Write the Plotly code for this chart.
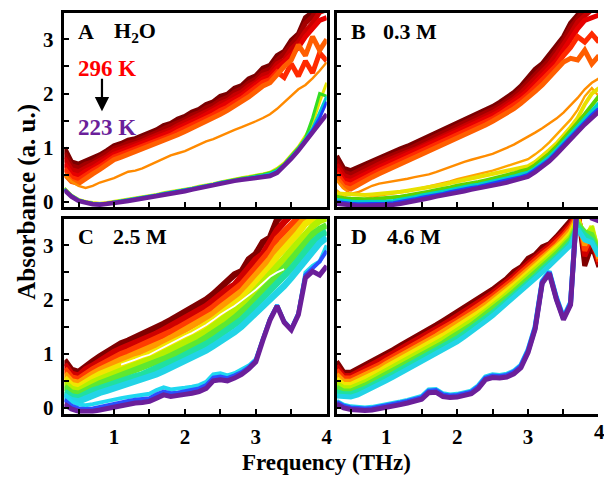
import plotly.graph_objects as go

# Frequency grid (THz) shared by every spectrum
freq_thz = [0.3, 0.4, 0.5, 0.6, 0.7, 0.8, 0.9, 1.0, 1.1, 1.2, 1.3, 1.4, 1.5,
            1.6, 1.7, 1.8, 1.9, 2.0, 2.1, 2.2, 2.3, 2.4, 2.5, 2.6, 2.7, 2.8,
            2.9, 3.0, 3.1, 3.2, 3.3, 3.4, 3.5, 3.6, 3.7, 3.8, 3.9, 4.0]

# Panel A (H2O): one row per frequency, columns run from 296 K down to 223 K
h2o_rows = [
    [1.00, 0.90, 0.81, 0.71, 0.62, 0.52, 0.50, 0.26, 0.25, 0.24, 0.23, 0.22],
    [0.74, 0.67, 0.60, 0.52, 0.45, 0.38, 0.38, 0.13, 0.12, 0.12, 0.11, 0.10],
    [0.70, 0.63, 0.56, 0.48, 0.41, 0.34, 0.30, 0.05, 0.04, 0.04, 0.03, 0.02],
    [0.76, 0.70, 0.63, 0.57, 0.50, 0.44, 0.26, 0.01, 0.00, 0.00, -0.01, -0.02],
    [0.80, 0.74, 0.69, 0.63, 0.58, 0.52, 0.30, -0.01, -0.02, -0.02, -0.03, -0.04],
    [0.87, 0.82, 0.76, 0.71, 0.65, 0.60, 0.36, -0.02, -0.03, -0.03, -0.04, -0.05],
    [0.95, 0.90, 0.84, 0.79, 0.73, 0.68, 0.40, -0.01, -0.02, -0.02, -0.03, -0.04],
    [1.04, 0.99, 0.94, 0.88, 0.83, 0.78, 0.44, 0.01, 0.00, 0.00, -0.02, -0.03],
    [1.08, 1.03, 0.98, 0.93, 0.88, 0.83, 0.50, 0.03, 0.02, 0.02, 0.01, 0.00],
    [1.14, 1.09, 1.04, 0.98, 0.93, 0.88, 0.56, 0.05, 0.04, 0.04, 0.03, 0.02],
    [1.17, 1.12, 1.07, 1.02, 0.97, 0.92, 0.58, 0.07, 0.06, 0.06, 0.05, 0.04],
    [1.22, 1.17, 1.12, 1.07, 1.02, 0.97, 0.62, 0.10, 0.09, 0.09, 0.08, 0.07],
    [1.29, 1.24, 1.18, 1.13, 1.07, 1.02, 0.68, 0.12, 0.11, 0.11, 0.10, 0.09],
    [1.33, 1.28, 1.23, 1.17, 1.12, 1.07, 0.74, 0.14, 0.13, 0.13, 0.12, 0.11],
    [1.41, 1.35, 1.30, 1.24, 1.19, 1.13, 0.80, 0.17, 0.16, 0.16, 0.15, 0.14],
    [1.45, 1.40, 1.34, 1.29, 1.23, 1.18, 0.86, 0.19, 0.18, 0.18, 0.17, 0.16],
    [1.53, 1.47, 1.41, 1.36, 1.30, 1.24, 0.90, 0.21, 0.20, 0.20, 0.19, 0.18],
    [1.58, 1.52, 1.47, 1.41, 1.36, 1.30, 0.94, 0.23, 0.22, 0.22, 0.21, 0.20],
    [1.66, 1.60, 1.54, 1.48, 1.42, 1.36, 1.00, 0.26, 0.25, 0.25, 0.24, 0.23],
    [1.71, 1.65, 1.59, 1.54, 1.48, 1.42, 1.06, 0.29, 0.28, 0.28, 0.27, 0.26],
    [1.80, 1.74, 1.67, 1.61, 1.54, 1.48, 1.12, 0.31, 0.30, 0.30, 0.29, 0.28],
    [1.85, 1.79, 1.73, 1.67, 1.61, 1.55, 1.16, 0.34, 0.33, 0.33, 0.32, 0.31],
    [1.95, 1.88, 1.82, 1.75, 1.69, 1.62, 1.22, 0.37, 0.36, 0.36, 0.35, 0.34],
    [1.99, 1.93, 1.87, 1.81, 1.75, 1.69, 1.28, 0.40, 0.39, 0.38, 0.37, 0.36],
    [2.10, 2.03, 1.97, 1.90, 1.84, 1.77, 1.33, 0.43, 0.42, 0.41, 0.40, 0.39],
    [2.15, 2.09, 2.03, 1.97, 1.91, 1.85, 1.38, 0.45, 0.44, 0.43, 0.42, 0.41],
    [2.27, 2.20, 2.14, 2.07, 2.01, 1.94, 1.43, 0.47, 0.46, 0.45, 0.44, 0.43],
    [2.33, 2.27, 2.21, 2.16, 2.10, 2.04, 1.49, 0.49, 0.48, 0.47, 0.45, 0.44],
    [2.47, 2.40, 2.34, 2.27, 2.21, 2.14, 1.55, 0.52, 0.51, 0.49, 0.47, 0.46],
    [2.52, 2.45, 2.38, 2.32, 2.26, 2.20, 1.62, 0.55, 0.54, 0.52, 0.50, 0.48],
    [2.70, 2.62, 2.55, 2.47, 2.40, 2.36, 1.72, 0.62, 0.60, 0.58, 0.56, 0.54],
    [2.78, 2.74, 2.62, 2.58, 2.30, 2.50, 1.84, 0.72, 0.70, 0.69, 0.67, 0.66],
    [2.98, 2.90, 2.82, 2.70, 2.55, 2.62, 1.96, 0.86, 0.84, 0.83, 0.81, 0.80],
    [3.10, 3.05, 2.95, 2.85, 2.32, 2.90, 2.08, 1.02, 1.00, 0.98, 0.96, 0.95],
    [3.40, 3.30, 3.15, 3.05, 2.60, 2.70, 2.16, 1.22, 1.18, 1.16, 1.14, 1.12],
    [3.50, 3.42, 3.30, 3.20, 2.38, 3.05, 2.28, 1.45, 1.55, 1.36, 1.32, 1.28],
    [3.75, 3.65, 3.50, 3.35, 2.75, 2.80, 2.42, 1.85, 2.00, 1.65, 1.55, 1.45],
    [3.80, 3.70, 3.55, 3.40, 2.60, 3.00, 2.58, 2.20, 1.95, 1.95, 1.85, 1.62],
]

# Panel B (0.3 M)
m03_rows = [
    [0.85, 0.77, 0.69, 0.61, 0.53, 0.45, 0.40, 0.22, 0.16, 0.10, 0.04, 0.00, -0.03],
    [0.62, 0.55, 0.49, 0.41, 0.35, 0.28, 0.25, 0.10, 0.15, 0.07, 0.02, -0.02, -0.05],
    [0.58, 0.51, 0.44, 0.38, 0.31, 0.24, 0.15, 0.05, 0.14, 0.06, 0.01, -0.03, -0.06],
    [0.64, 0.58, 0.51, 0.45, 0.38, 0.32, 0.18, 0.03, 0.13, 0.05, 0.00, -0.04, -0.07],
    [0.70, 0.64, 0.58, 0.52, 0.46, 0.40, 0.24, 0.06, 0.13, 0.05, 0.00, -0.04, -0.07],
    [0.76, 0.70, 0.64, 0.58, 0.52, 0.46, 0.30, 0.10, 0.14, 0.05, 0.00, -0.04, -0.07],
    [0.82, 0.76, 0.70, 0.64, 0.58, 0.52, 0.34, 0.12, 0.15, 0.06, 0.01, -0.03, -0.06],
    [0.88, 0.82, 0.76, 0.70, 0.64, 0.58, 0.36, 0.14, 0.16, 0.07, 0.01, -0.03, -0.06],
    [0.94, 0.88, 0.82, 0.76, 0.70, 0.64, 0.38, 0.15, 0.17, 0.08, 0.02, -0.02, -0.05],
    [0.98, 0.92, 0.86, 0.81, 0.75, 0.69, 0.40, 0.18, 0.19, 0.10, 0.04, 0.00, -0.03],
    [1.03, 0.97, 0.92, 0.86, 0.81, 0.75, 0.43, 0.20, 0.21, 0.12, 0.06, 0.02, -0.01],
    [1.09, 1.03, 0.97, 0.92, 0.86, 0.80, 0.46, 0.23, 0.23, 0.14, 0.09, 0.05, 0.02],
    [1.14, 1.09, 1.03, 0.98, 0.92, 0.87, 0.48, 0.26, 0.25, 0.17, 0.12, 0.08, 0.05],
    [1.20, 1.15, 1.09, 1.04, 0.98, 0.93, 0.51, 0.28, 0.27, 0.19, 0.14, 0.10, 0.07],
    [1.26, 1.21, 1.15, 1.10, 1.04, 0.99, 0.55, 0.31, 0.30, 0.22, 0.17, 0.13, 0.10],
    [1.32, 1.27, 1.21, 1.16, 1.10, 1.05, 0.60, 0.35, 0.32, 0.24, 0.19, 0.15, 0.12],
    [1.40, 1.34, 1.28, 1.23, 1.17, 1.11, 0.65, 0.38, 0.35, 0.27, 0.22, 0.18, 0.15],
    [1.46, 1.40, 1.34, 1.29, 1.23, 1.17, 0.70, 0.42, 0.38, 0.30, 0.25, 0.21, 0.18],
    [1.51, 1.45, 1.40, 1.34, 1.29, 1.23, 0.74, 0.45, 0.40, 0.32, 0.27, 0.23, 0.20],
    [1.56, 1.51, 1.45, 1.40, 1.34, 1.29, 0.78, 0.48, 0.43, 0.35, 0.30, 0.26, 0.23],
    [1.62, 1.57, 1.51, 1.46, 1.40, 1.35, 0.81, 0.52, 0.46, 0.37, 0.32, 0.28, 0.25],
    [1.68, 1.63, 1.57, 1.52, 1.47, 1.42, 0.85, 0.55, 0.49, 0.40, 0.35, 0.31, 0.28],
    [1.76, 1.71, 1.65, 1.60, 1.54, 1.49, 0.89, 0.58, 0.52, 0.43, 0.37, 0.33, 0.30],
    [1.84, 1.78, 1.73, 1.67, 1.62, 1.56, 0.94, 0.62, 0.55, 0.46, 0.40, 0.36, 0.33],
    [1.93, 1.87, 1.81, 1.76, 1.70, 1.64, 1.00, 0.66, 0.58, 0.49, 0.43, 0.39, 0.36],
    [2.02, 1.96, 1.90, 1.84, 1.78, 1.72, 1.06, 0.70, 0.61, 0.53, 0.47, 0.42, 0.39],
    [2.14, 2.08, 2.01, 1.95, 1.88, 1.82, 1.13, 0.74, 0.64, 0.57, 0.51, 0.46, 0.43],
    [2.28, 2.21, 2.14, 2.06, 1.99, 1.92, 1.20, 0.79, 0.66, 0.60, 0.54, 0.50, 0.47],
    [2.45, 2.37, 2.29, 2.20, 2.12, 2.04, 1.28, 0.88, 0.74, 0.68, 0.62, 0.58, 0.55],
    [2.55, 2.47, 2.39, 2.32, 2.24, 2.16, 1.36, 0.98, 0.84, 0.78, 0.72, 0.68, 0.65],
    [2.70, 2.62, 2.54, 2.46, 2.38, 2.30, 1.45, 1.10, 0.96, 0.89, 0.83, 0.78, 0.75],
    [2.88, 2.80, 2.72, 2.60, 2.52, 2.44, 1.54, 1.24, 1.08, 1.02, 0.96, 0.92, 0.88],
    [3.05, 2.98, 2.90, 2.80, 2.70, 2.58, 1.65, 1.38, 1.22, 1.16, 1.10, 1.06, 1.02],
    [3.30, 3.22, 3.10, 3.00, 2.85, 2.65, 1.78, 1.52, 1.38, 1.31, 1.24, 1.20, 1.16],
    [3.45, 3.40, 3.32, 3.20, 3.05, 2.62, 1.92, 1.70, 1.55, 1.46, 1.39, 1.34, 1.30],
    [3.60, 3.55, 3.45, 3.35, 2.95, 2.80, 2.08, 1.95, 1.80, 1.62, 1.52, 1.47, 1.43],
    [3.70, 3.65, 3.55, 3.40, 3.10, 2.55, 2.20, 2.10, 2.00, 1.80, 1.68, 1.60, 1.55],
    [3.75, 3.70, 3.60, 3.45, 2.95, 2.70, 2.28, 1.95, 2.10, 1.95, 1.82, 1.72, 1.67],
]

# Panel C (2.5 M): liquid band, a pale trace, then frozen spectra
m25_rows = [
    [0.88, 0.80, 0.72, 0.63, 0.55, 0.47, 0.39, 0.30, 0.22, None, 0.25, 0.15, 0.07],
    [0.70, 0.63, 0.56, 0.49, 0.42, 0.35, 0.28, 0.21, 0.14, None, 0.12, 0.04, -0.02],
    [0.66, 0.59, 0.53, 0.46, 0.39, 0.32, 0.26, 0.19, 0.12, None, 0.06, -0.01, -0.06],
    [0.78, 0.71, 0.63, 0.56, 0.48, 0.41, 0.33, 0.26, 0.18, None, 0.05, -0.02, -0.07],
    [0.86, 0.78, 0.71, 0.63, 0.55, 0.47, 0.40, 0.32, 0.24, None, 0.07, -0.01, -0.06],
    [0.95, 0.87, 0.78, 0.70, 0.62, 0.53, 0.45, 0.36, 0.28, None, 0.10, 0.02, -0.04],
    [1.04, 0.95, 0.86, 0.77, 0.68, 0.59, 0.50, 0.41, 0.32, None, 0.13, 0.05, -0.01],
    [1.12, 1.03, 0.93, 0.84, 0.74, 0.65, 0.55, 0.46, 0.36, None, 0.15, 0.08, 0.02],
    [1.19, 1.09, 0.99, 0.89, 0.80, 0.70, 0.60, 0.50, 0.40, 0.80, 0.18, 0.11, 0.05],
    [1.24, 1.14, 1.04, 0.94, 0.84, 0.74, 0.64, 0.54, 0.44, 0.84, 0.20, 0.13, 0.07],
    [1.30, 1.20, 1.10, 0.99, 0.89, 0.79, 0.69, 0.58, 0.48, 0.89, 0.22, 0.15, 0.09],
    [1.35, 1.25, 1.14, 1.04, 0.93, 0.83, 0.73, 0.62, 0.52, 0.94, 0.24, 0.16, 0.10],
    [1.40, 1.30, 1.19, 1.09, 0.98, 0.88, 0.77, 0.67, 0.56, 0.98, 0.26, 0.18, 0.12],
    [1.48, 1.37, 1.27, 1.16, 1.05, 0.94, 0.84, 0.73, 0.62, 1.05, 0.33, 0.25, 0.18],
    [1.55, 1.44, 1.33, 1.22, 1.12, 1.01, 0.90, 0.79, 0.68, 1.12, 0.38, 0.30, 0.24],
    [1.62, 1.51, 1.40, 1.29, 1.18, 1.07, 0.96, 0.85, 0.74, 1.18, 0.34, 0.27, 0.21],
    [1.69, 1.58, 1.47, 1.36, 1.25, 1.13, 1.02, 0.91, 0.80, 1.25, 0.35, 0.28, 0.22],
    [1.77, 1.66, 1.54, 1.43, 1.32, 1.20, 1.09, 0.97, 0.86, 1.32, 0.37, 0.31, 0.25],
    [1.84, 1.73, 1.61, 1.50, 1.38, 1.27, 1.15, 1.04, 0.92, 1.38, 0.39, 0.33, 0.27],
    [1.92, 1.80, 1.69, 1.57, 1.46, 1.34, 1.22, 1.11, 0.99, 1.45, 0.42, 0.36, 0.30],
    [2.00, 1.88, 1.77, 1.65, 1.53, 1.41, 1.30, 1.18, 1.06, 1.53, 0.48, 0.42, 0.36],
    [2.10, 1.98, 1.86, 1.74, 1.62, 1.50, 1.38, 1.26, 1.14, 1.62, 0.62, 0.56, 0.50],
    [2.22, 2.10, 1.97, 1.85, 1.72, 1.60, 1.47, 1.35, 1.22, 1.72, 0.64, 0.58, 0.52],
    [2.30, 2.19, 2.07, 1.94, 1.82, 1.69, 1.56, 1.44, 1.31, 1.80, 0.60, 0.55, 0.50],
    [2.46, 2.27, 2.17, 2.04, 1.91, 1.78, 1.66, 1.53, 1.40, 1.88, 0.64, 0.60, 0.55],
    [2.52, 2.43, 2.28, 2.15, 2.02, 1.89, 1.76, 1.63, 1.50, 1.98, 0.70, 0.66, 0.62],
    [2.74, 2.55, 2.43, 2.30, 2.16, 2.03, 1.89, 1.76, 1.62, 2.08, 0.78, 0.75, 0.72],
    [2.84, 2.74, 2.58, 2.44, 2.31, 2.17, 2.03, 1.89, 1.75, 2.18, 0.90, 0.88, 0.85],
    [3.06, 2.84, 2.72, 2.58, 2.44, 2.30, 2.16, 2.02, 1.87, 2.30, 1.28, 1.27, 1.25],
    [3.14, 3.08, 2.90, 2.75, 2.60, 2.45, 2.30, 2.15, 2.00, 2.42, 1.65, 1.64, 1.62],
    [3.47, 3.28, 3.12, 2.95, 2.79, 2.62, 2.45, 2.29, 2.12, 2.50, 1.90, 1.89, 1.88],
    [3.60, 3.43, 3.26, 3.09, 2.93, 2.76, 2.59, 2.42, 2.25, 2.56, 1.60, 1.59, 1.58],
    [3.75, 3.58, 3.41, 3.24, 3.08, 2.91, 2.74, 2.57, 2.40, None, 1.46, 1.45, 1.44],
    [3.90, 3.73, 3.57, 3.40, 3.23, 3.06, 2.90, 2.73, 2.56, None, 1.75, 1.74, 1.72],
    [4.00, 3.85, 3.70, 3.55, 3.40, 3.24, 3.07, 2.90, 2.74, None, 2.50, 2.45, 2.40],
    [4.10, 3.95, 3.80, 3.65, 3.50, 3.35, 3.20, 3.05, 2.90, None, 2.62, 2.58, 2.52],
    [4.20, 4.05, 3.90, 3.75, 3.60, 3.45, 3.30, 3.17, 3.04, None, 2.70, 2.70, 2.45],
    [4.30, 4.10, 3.95, 3.80, 3.65, 3.50, 3.37, 3.25, 3.14, None, 3.00, 2.90, 2.62],
]

# Panel D (4.6 M): liquid band, then frozen spectra
m46_rows = [
    [0.86, 0.78, 0.70, 0.62, 0.54, 0.46, 0.38, 0.30, 0.22, 0.12, 0.10, 0.07],
    [0.66, 0.60, 0.55, 0.49, 0.43, 0.37, 0.31, 0.26, 0.20, 0.05, 0.03, 0.00],
    [0.66, 0.60, 0.55, 0.49, 0.43, 0.37, 0.31, 0.26, 0.20, 0.02, 0.00, -0.03],
    [0.73, 0.67, 0.61, 0.55, 0.49, 0.42, 0.36, 0.30, 0.24, 0.00, -0.02, -0.05],
    [0.78, 0.72, 0.66, 0.60, 0.54, 0.48, 0.42, 0.36, 0.30, 0.00, -0.02, -0.05],
    [0.85, 0.79, 0.73, 0.67, 0.61, 0.55, 0.49, 0.43, 0.37, 0.01, -0.01, -0.04],
    [0.93, 0.87, 0.80, 0.74, 0.68, 0.62, 0.55, 0.49, 0.43, 0.03, 0.01, -0.02],
    [1.01, 0.95, 0.88, 0.82, 0.76, 0.69, 0.63, 0.56, 0.50, 0.05, 0.03, 0.00],
    [1.08, 1.02, 0.95, 0.89, 0.83, 0.76, 0.70, 0.63, 0.57, 0.08, 0.06, 0.03],
    [1.16, 1.10, 1.03, 0.97, 0.90, 0.84, 0.77, 0.71, 0.64, 0.11, 0.09, 0.06],
    [1.23, 1.17, 1.10, 1.04, 0.97, 0.91, 0.84, 0.78, 0.71, 0.14, 0.12, 0.09],
    [1.30, 1.24, 1.17, 1.11, 1.05, 0.98, 0.92, 0.85, 0.79, 0.17, 0.15, 0.12],
    [1.38, 1.32, 1.25, 1.19, 1.12, 1.06, 0.99, 0.93, 0.86, 0.21, 0.19, 0.16],
    [1.46, 1.39, 1.33, 1.26, 1.20, 1.13, 1.06, 1.00, 0.93, 0.33, 0.31, 0.28],
    [1.53, 1.46, 1.40, 1.33, 1.27, 1.20, 1.13, 1.07, 1.00, 0.34, 0.32, 0.29],
    [1.61, 1.54, 1.48, 1.41, 1.34, 1.27, 1.20, 1.14, 1.07, 0.26, 0.24, 0.21],
    [1.69, 1.62, 1.56, 1.49, 1.42, 1.35, 1.29, 1.22, 1.15, 0.24, 0.22, 0.19],
    [1.77, 1.70, 1.63, 1.56, 1.50, 1.43, 1.36, 1.29, 1.22, 0.25, 0.23, 0.20],
    [1.85, 1.78, 1.72, 1.65, 1.58, 1.51, 1.45, 1.38, 1.31, 0.27, 0.25, 0.22],
    [1.93, 1.86, 1.80, 1.73, 1.67, 1.60, 1.53, 1.47, 1.40, 0.31, 0.29, 0.26],
    [2.01, 1.95, 1.88, 1.82, 1.76, 1.69, 1.63, 1.56, 1.50, 0.41, 0.39, 0.36],
    [2.10, 2.04, 1.98, 1.91, 1.85, 1.79, 1.73, 1.66, 1.60, 0.57, 0.55, 0.52],
    [2.19, 2.13, 2.07, 2.01, 1.95, 1.88, 1.82, 1.76, 1.70, 0.61, 0.59, 0.56],
    [2.29, 2.23, 2.17, 2.11, 2.05, 1.99, 1.93, 1.87, 1.81, 0.60, 0.58, 0.55],
    [2.39, 2.33, 2.27, 2.21, 2.16, 2.10, 2.04, 1.98, 1.92, 0.62, 0.60, 0.57],
    [2.52, 2.44, 2.38, 2.32, 2.27, 2.21, 2.15, 2.09, 2.03, 0.68, 0.66, 0.63],
    [2.60, 2.56, 2.50, 2.44, 2.38, 2.32, 2.26, 2.20, 2.14, 0.79, 0.77, 0.74],
    [2.76, 2.68, 2.62, 2.56, 2.50, 2.43, 2.37, 2.31, 2.25, 1.07, 1.05, 1.02],
    [2.83, 2.79, 2.73, 2.67, 2.61, 2.55, 2.49, 2.43, 2.37, 1.50, 1.48, 1.45],
    [2.97, 2.89, 2.84, 2.78, 2.73, 2.67, 2.61, 2.56, 2.50, 2.34, 2.32, 2.30],
    [3.03, 3.00, 2.94, 2.89, 2.84, 2.78, 2.73, 2.67, 2.62, 2.52, 2.50, 2.48],
    [3.16, 3.11, 3.06, 3.00, 2.95, 2.90, 2.85, 2.79, 2.74, 2.04, 2.02, 2.00],
    [3.30, 3.25, 3.19, 3.14, 3.08, 3.03, 2.97, 2.92, 2.86, 1.67, 1.65, 1.63],
    [3.46, 3.40, 3.35, 3.29, 3.23, 3.17, 3.12, 3.06, 3.00, 1.95, 1.93, 1.90],
    [3.70, 3.65, 3.60, 3.55, 3.50, 3.45, 3.40, 3.35, 3.30, 3.90, 3.90, 3.90],
    [2.62, 2.80, 2.90, 3.00, 3.10, 3.20, 3.25, 3.20, 3.10, 3.75, 3.72, 3.70],
    [3.00, 3.10, 3.20, 3.30, 3.35, 3.30, 3.20, 3.10, 3.05, 3.55, 3.52, 3.50],
    [2.60, 2.65, 2.70, 2.75, 2.80, 2.85, 2.90, 2.85, 2.80, 3.50, 3.47, 3.45],
]

panel_letters = ["A", "B", "C", "D"]
panel_titles = ["H<sub>2</sub>O", "0.3 M", "2.5 M", "4.6 M"]
y_ticks = [0, 1, 2, 3]
x_ticks = [1, 2, 3, 4]

# ---- styling -------------------------------------------------------------
PURPLE = "#6b1f9a"
warm = ["#7a0000", "#a30000", "#c80000", "#e60000", "#ff2a00", "#ff5e00"]
band = ["#800000", "#d00000", "#ff3c00", "#ff9a00", "#f2e600",
        "#b4f000", "#5ee830", "#20e0a0", "#22d4e6"]

styles = {
    "A": (warm + ["#ff8a00", "#e6e600", "#33dd22", "#00c8d2", "#1e3cff", PURPLE],
          [5] * 6 + [2.4] + [3, 3, 3, 3, 4.5]),
    "B": (warm + ["#ff8c00", "#ffa500", "#e8e000", "#5ad400", "#00d0c8", "#2040ff", PURPLE],
          [5] * 6 + [2.4, 2.4] + [4, 4, 4, 4, 4.5]),
    "C": (band + ["#ffffff", "#20d8f0", "#2a50ff", PURPLE],
          [6.5] * 9 + [1.8, 4, 4, 5]),
    "D": (band + ["#20d8f0", "#2a50ff", PURPLE],
          [5] * 9 + [5, 5, 5]),
}
tables = {"A": h2o_rows, "B": m03_rows, "C": m25_rows, "D": m46_rows}

W, H = 604, 479
def px(x):
    return x / W
def py(y):
    return (H - y) / H

axes_ids = {"A": ("x", "y"), "B": ("x2", "y2"), "C": ("x3", "y3"), "D": ("x4", "y4")}

fig = go.Figure()
for key in ["A", "B", "C", "D"]:
    rows = tables[key]
    colors, widths = styles[key]
    xa, ya = axes_ids[key]
    for j in range(len(colors)):
        fig.add_trace(go.Scatter(
            x=freq_thz, y=[r[j] for r in rows], mode="lines",
            line=dict(color=colors[j], width=widths[j]),
            xaxis=xa, yaxis=ya, showlegend=False, hoverinfo="skip",
            connectgaps=False))

FONT = "Liberation Serif"
tick_font = dict(family=FONT, size=21, color="black", weight="bold")

def xaxis(domain, rng, anchor, labels, vals):
    return dict(domain=domain, range=rng, anchor=anchor,
                showline=True, linecolor="black", linewidth=2.5, mirror=True,
                ticks="inside", ticklen=5, tickwidth=2, tickcolor="black",
                tickmode="array", tickvals=vals, showticklabels=labels,
                minor=dict(ticks="inside", ticklen=5, tickwidth=2, tickcolor="black",
                           tickmode="array", tickvals=[0.5, 1.5, 2.5, 3.5]),
                ticklabelstandoff=2,
                showgrid=False, zeroline=False, tickfont=tick_font)

def yaxis(domain, rng, anchor, labels, mirror):
    return dict(domain=domain, range=rng, anchor=anchor,
                showline=True, linecolor="black", linewidth=2.5, mirror=mirror,
                ticks="inside", ticklen=5, tickwidth=2, tickcolor="black",
                tickmode="array", tickvals=y_ticks, showticklabels=labels,
                minor=dict(ticks="inside", ticklen=5, tickwidth=2, tickcolor="black",
                           tickmode="array", tickvals=[0.5, 1.5, 2.5]),
                ticklabelstandoff=4,
                showgrid=False, zeroline=False, tickfont=tick_font)

left_dom = [px(65), px(330)]
right_dom = [px(340), 1.0]
top_dom = [py(210), py(13)]
bot_dom = [py(420), py(222)]
x_left = [0.3, 4.0]
x_right = [0.3, 0.3 + (604 - 340) / 71.6]

fig.update_layout(
    width=W, height=H, margin=dict(l=0, r=0, t=0, b=0),
    paper_bgcolor="white", plot_bgcolor="white",
    xaxis=xaxis(left_dom, x_left, "y", False, x_ticks),
    xaxis2=xaxis(right_dom, x_right, "y2", False, x_ticks[:3]),
    xaxis3=xaxis(left_dom, x_left, "y3", True, x_ticks),
    xaxis4=xaxis(right_dom, x_right, "y4", True, x_ticks[:3]),
    yaxis=yaxis(top_dom, [-0.09, 3.49], "x", True, True),
    yaxis2=yaxis(top_dom, [-0.09, 3.49], "x2", False, False),
    yaxis3=yaxis(bot_dom, [-0.11, 3.49], "x3", True, True),
    yaxis4=yaxis(bot_dom, [-0.11, 3.49], "x4", False, False),
)

lab_font = dict(family=FONT, size=22, color="black", weight="bold")
ann = []
letter_pos = {"A": (77, 32), "B": (352, 32), "C": (77, 240), "D": (352, 240)}
title_pos = {"A": (113, 32), "B": (385, 32), "C": (112, 240), "D": (389, 240)}
for i, key in enumerate(panel_letters):
    lx, ly = letter_pos[key]
    tx, ty = title_pos[key]
    ann.append(dict(x=px(lx), y=py(ly), xref="paper", yref="paper", text=key,
                    showarrow=False, xanchor="left", yanchor="middle", font=lab_font))
    ann.append(dict(x=px(tx), y=py(ty), xref="paper", yref="paper", text=panel_titles[i],
                    showarrow=False, xanchor="left", yanchor="middle", font=lab_font))

ann.append(dict(x=px(77), y=py(70), xref="paper", yref="paper", text="296 K",
                showarrow=False, xanchor="left", yanchor="middle",
                font=dict(family=FONT, size=23, color="#ff0000", weight="bold")))
ann.append(dict(x=px(77), y=py(129), xref="paper", yref="paper", text="223 K",
                showarrow=False, xanchor="left", yanchor="middle",
                font=dict(family=FONT, size=23, color=PURPLE, weight="bold")))
ann.append(dict(x=px(103), y=py(113), xref="paper", yref="paper", text="",
                showarrow=True, ax=0, ay=-34, arrowhead=2, arrowsize=1.3,
                arrowwidth=2.2, arrowcolor="black"))

# the last frequency label of the right column sits on the page edge
ann.append(dict(x=px(606), y=py(438), xref="paper", yref="paper", text="4",
                showarrow=False, xanchor="center", yanchor="middle", font=tick_font))
ann.append(dict(x=px(27), y=py(205), xref="paper", yref="paper",
                text="Absorbance (a. u.)", textangle=-90, showarrow=False,
                xanchor="center", yanchor="middle",
                font=dict(family=FONT, size=25, color="black", weight="bold")))
ann.append(dict(x=px(330), y=py(469), xref="paper", yref="paper",
                text="Frequency (THz)", showarrow=False,
                xanchor="center", yanchor="middle",
                font=dict(family=FONT, size=23, color="black", weight="bold")))
fig.update_layout(annotations=ann)

fig.write_html("out.html")
